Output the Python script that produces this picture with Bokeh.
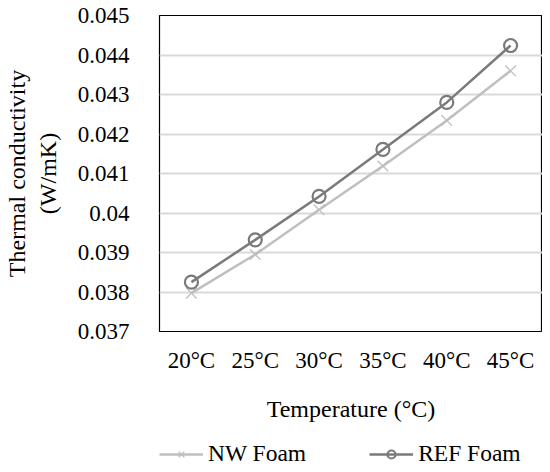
from bokeh.plotting import figure
from bokeh.layouts import column
from bokeh.models import Legend, LegendItem, FixedTicker, ColumnDataSource, Range1d, FactorRange
from bokeh.embed import file_html
from bokeh.resources import INLINE

categories = ["20°C", "25°C", "30°C", "35°C", "40°C", "45°C"]
nw_foam = [0.03797, 0.03895, 0.04008, 0.04119, 0.04234, 0.04360]
ref_foam = [0.03825, 0.03932, 0.04042, 0.04161, 0.04280, 0.04424]
y_ticks = [0.037, 0.038, 0.039, 0.040, 0.041, 0.042, 0.043, 0.044, 0.045]
y_tick_labels = ["0.037", "0.038", "0.039", "0.04", "0.041", "0.042", "0.043", "0.044", "0.045"]
series_names = ["NW Foam", "REF Foam"]

FONT = "Liberation Serif"
TEXT_COLOR = "#000000"
NW_COLOR = "#bfbfbf"
REF_COLOR = "#7a7a7a"

src = ColumnDataSource(dict(cat=categories, nw=nw_foam, ref=ref_foam))

p = figure(
    x_range=categories,
    y_range=(0.037, 0.045),
    width=542, height=426,
    output_backend="svg", toolbar_location=None,
    min_border_left=149, min_border_right=0,
    min_border_top=15, min_border_bottom=95,
    background_fill_color="white", border_fill_color="white",
    outline_line_color="black", outline_line_width=1.2,
)

# grid
p.xgrid.grid_line_color = None
p.ygrid.grid_line_color = "#d9d9d9"
p.ygrid.grid_line_width = 2
p.yaxis.ticker = FixedTicker(ticks=y_ticks)
p.yaxis.major_label_overrides = {t: l for t, l in zip(y_ticks, y_tick_labels)}

for ax in (p.xaxis[0], p.yaxis[0]):
    ax.axis_line_color = None
    ax.major_tick_line_color = None
    ax.minor_tick_line_color = None
    ax.major_label_text_font = FONT
    ax.major_label_text_font_size = "23px"
    ax.major_label_text_color = TEXT_COLOR
    ax.axis_label_text_font = FONT
    ax.axis_label_text_font_size = "24px"
    ax.axis_label_text_font_style = "normal"
    ax.axis_label_text_color = TEXT_COLOR

p.yaxis.major_label_standoff = 24
p.yaxis.axis_label = "Thermal conductivity\n(W/mK)"
p.yaxis.axis_label_standoff = 14
p.xaxis.major_label_standoff = 10
p.xaxis.axis_label = "Temperature (°C)"
p.xaxis.axis_label_standoff = 20

p.line("cat", "nw", source=src, line_color=NW_COLOR, line_width=2.5)
p.scatter("cat", "nw", source=src, marker="x", size=15, line_color=NW_COLOR, line_width=1.3)
p.line("cat", "ref", source=src, line_color=REF_COLOR, line_width=2.5)
p.scatter("cat", "ref", source=src, marker="circle", size=13, line_color=REF_COLOR,
          line_width=2.2, fill_alpha=0)

# legend strip below the chart: same series, drawn outside its (empty) view window
lg = figure(
    x_range=FactorRange(*categories), y_range=Range1d(1, 2),
    width=542, height=46,
    output_backend="svg", toolbar_location=None,
    x_axis_location=None, y_axis_location=None,
    min_border=0, outline_line_color=None,
    background_fill_color="white", border_fill_color="white",
)
lg.xgrid.grid_line_color = None
lg.ygrid.grid_line_color = None
l_nw = lg.line("cat", "nw", source=src, line_color=NW_COLOR, line_width=2.5)
m_nw = lg.scatter("cat", "nw", source=src, marker="x", size=15, line_color=NW_COLOR, line_width=1.3)
l_ref = lg.line("cat", "ref", source=src, line_color=REF_COLOR, line_width=2.5)
m_ref = lg.scatter("cat", "ref", source=src, marker="circle", size=13, line_color=REF_COLOR,
                   line_width=2.2, fill_alpha=0)

legend = Legend(
    items=[LegendItem(label=series_names[0], renderers=[l_nw, m_nw]),
           LegendItem(label=series_names[1], renderers=[l_ref, m_ref])],
    orientation="horizontal",
    location=(0, 5),
    label_text_font=FONT, label_text_font_size="23.5px", label_text_color=TEXT_COLOR,
    glyph_width=44, glyph_height=20, label_standoff=5, spacing=63,
    padding=0, margin=0, border_line_color=None, background_fill_alpha=0,
)
lg.add_layout(legend, "center")

layout = column(p, lg, spacing=0)
open("out.html", "w").write(file_html(layout, INLINE))
